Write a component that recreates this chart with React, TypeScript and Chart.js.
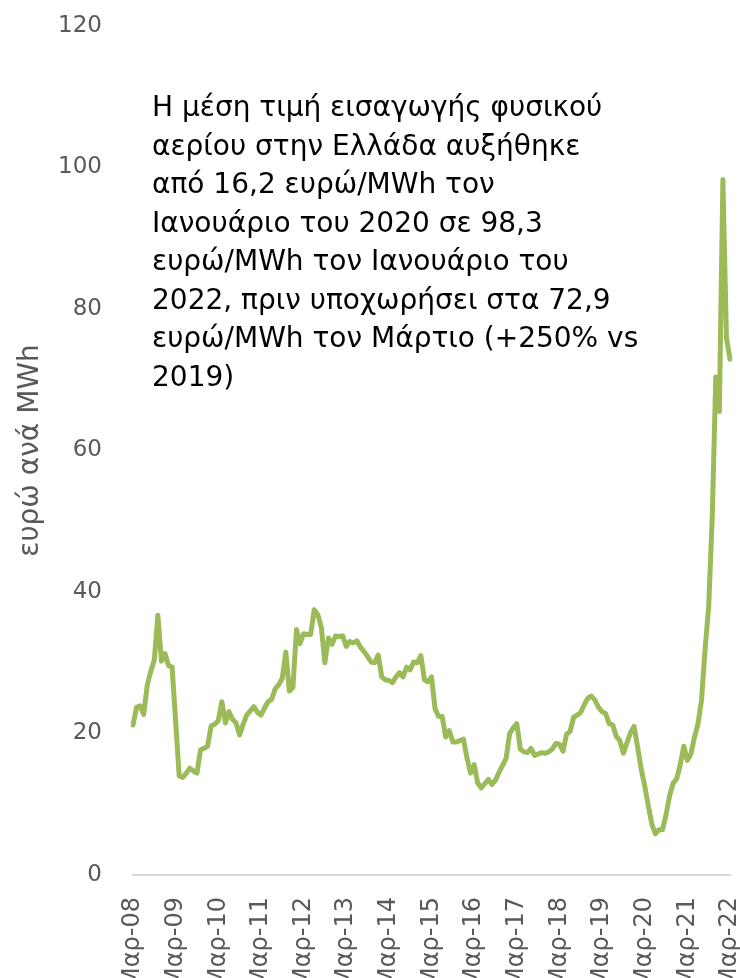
import React, { useEffect, useRef } from "react";
import { Chart, registerables } from "chart.js";

Chart.register(...registerables);

// Monthly average natural gas import price in Greece (€/MWh), Mar-2008 .. Mar-2022
const startYear = 2008;
const monthNames = ["Μαρ", "Απρ", "Μαϊ", "Ιουν", "Ιουλ", "Αυγ", "Σεπ", "Οκτ", "Νοε", "Δεκ", "Ιαν", "Φεβ"];

const prices2008to2011 = [
  21.2, 23.7, 23.9, 22.7, 26.8, 28.8, 30.4, 36.7, 30.2, 31.3, 29.6, 29.4,
  21.7, 14.0, 13.8, 14.4, 15.1, 14.7, 14.4, 17.7, 17.9, 18.2, 21.1, 21.3,
  21.8, 24.5, 21.5, 23.1, 22.0, 21.5, 19.8, 21.3, 22.6, 23.2, 23.8, 23.0,
  22.6, 23.6, 24.5, 24.8, 26.3, 26.9, 27.8, 31.5, 26.0, 26.5, 34.7, 32.7,
];
const prices2012to2015 = [
  34.1, 34.0, 34.0, 37.5, 36.8, 35.0, 30.0, 33.5, 32.6, 33.8, 33.7, 33.8,
  32.3, 33.0, 32.8, 33.1, 32.2, 31.6, 30.9, 30.1, 30.0, 31.1, 28.0, 27.6,
  27.5, 27.2, 28.0, 28.6, 28.0, 29.4, 29.0, 30.1, 30.0, 31.0, 27.6, 27.3,
  28.0, 23.5, 22.4, 22.4, 19.5, 20.4, 18.8, 18.8, 19.0, 19.2, 16.5, 14.4,
];
const prices2016to2019 = [
  15.6, 13.0, 12.3, 12.9, 13.5, 12.8, 13.4, 14.5, 15.5, 16.5, 20.0, 20.8,
  21.4, 17.8, 17.4, 17.3, 17.9, 16.9, 17.1, 17.3, 17.2, 17.4, 17.8, 18.6,
  18.5, 17.5, 19.9, 20.3, 22.3, 22.6, 23.0, 24.1, 25.0, 25.3, 24.7, 23.7,
  23.1, 22.8, 21.4, 21.2, 19.6, 19.0, 17.2, 18.7, 20.1, 21.0, 18.1, 15.0,
];
const prices2020to2022 = [
  12.6, 9.8, 7.2, 5.8, 6.4, 6.4, 8.5, 11.2, 13.0, 13.6, 15.6, 18.2,
  16.2, 17.1, 19.5, 21.4, 24.8, 32.0, 37.9, 50.5, 70.4, 65.5, 98.3, 75.9,
  72.9,
];
const prices = [...prices2008to2011, ...prices2012to2015, ...prices2016to2019, ...prices2020to2022];

const labels = prices.map((_, i) => {
  const year = startYear + Math.floor((i + 2) / 12);
  return monthNames[i % 12] + "-" + String(year % 100).padStart(2, "0");
});

const yMin = 0;
const yMax = 120;
const yStep = 20;

const yTitle = "ευρώ ανά MWh";
const annotationLines = [
  "Η μέση τιμή εισαγωγής φυσικού",
  "αερίου στην Ελλάδα αυξήθηκε",
  "από 16,2 ευρώ/MWh τον",
  "Ιανουάριο του 2020 σε 98,3",
  "ευρώ/MWh τον Ιανουάριο του",
  "2022, πριν υποχωρήσει στα 72,9",
  "ευρώ/MWh τον Μάρτιο (+250% vs",
  "2019)",
];

const CANVAS_H = 1000;
const FONT = "'DejaVu Sans', sans-serif";

export default function App() {
  const canvasRef = useRef<HTMLCanvasElement | null>(null);

  useEffect(() => {
    if (!canvasRef.current) return;
    const chart = new Chart(canvasRef.current, {
      type: "line",
      data: {
        labels,
        datasets: [
          {
            data: prices,
            borderColor: "#9BBB59",
            borderWidth: 5,
            pointRadius: 0,
            tension: 0,
            borderJoinStyle: "round",
            borderCapStyle: "round",
            fill: false,
          },
        ],
      },
      options: {
        animation: false,
        responsive: true,
        maintainAspectRatio: false,
        layout: { padding: { top: 26, right: 10, left: 0, bottom: 0 } },
        plugins: { legend: { display: false }, tooltip: { enabled: false } },
        scales: {
          x: {
            type: "category",
            offset: false,
            grid: { display: false, drawTicks: false },
            border: { display: true, color: "#D9D9D9", width: 2 },
            ticks: {
              autoSkip: false,
              minRotation: 90,
              maxRotation: 90,
              padding: 22,
              color: "#595959",
              font: { family: FONT, size: 24 },
              callback: (_v: any, i: number) => (i % 12 === 0 ? labels[i] : ""),
            },
            afterFit: (scale: any) => {
              scale.height = CANVAS_H - 875;
              scale.paddingLeft = 0;
              scale.paddingRight = 0;
            },
          },
          y: {
            min: yMin,
            max: yMax,
            grid: { display: false, drawTicks: false },
            border: { display: false },
            ticks: {
              stepSize: yStep,
              padding: 31,
              color: "#595959",
              font: { family: FONT, size: 23 },
            },
            title: {
              display: true,
              text: yTitle,
              color: "#595959",
              font: { family: FONT, size: 28 },
              padding: { top: 14, bottom: 0 },
            },
            afterFit: (scale: any) => {
              scale.width = 133;
              scale.paddingTop = 0;
              scale.paddingBottom = 0;
            },
          },
        },
      },
    });
    return () => chart.destroy();
  }, []);

  return (
    <div
      style={{
        position: "fixed",
        left: 0,
        top: 0,
        width: 740,
        height: 978,
        overflow: "hidden",
        background: "#ffffff",
      }}
    >
      <div style={{ position: "absolute", left: 0, top: 0, width: 740, height: CANVAS_H }}>
        <canvas ref={canvasRef} />
      </div>
      <div
        style={{
          position: "absolute",
          left: 152,
          top: 88,
          fontFamily: FONT,
          fontSize: 28,
          lineHeight: "38.5px",
          color: "#000000",
          whiteSpace: "nowrap",
        }}
      >
        {annotationLines.map((line, i) => (
          <div key={i}>{line}</div>
        ))}
      </div>
    </div>
  );
}
